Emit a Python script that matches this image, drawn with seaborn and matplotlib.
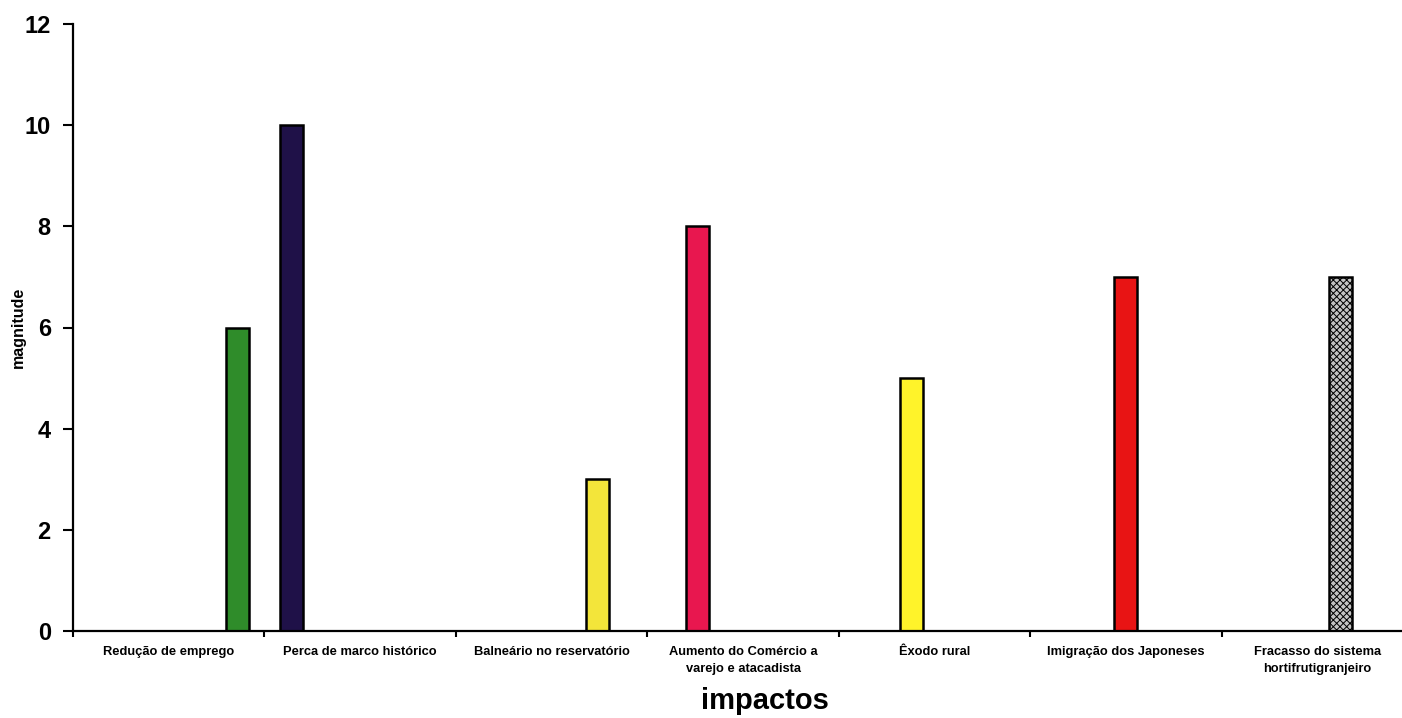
import matplotlib
matplotlib.use("Agg")
import matplotlib.pyplot as plt
import seaborn as sns
import pandas as pd

# Impacts and their magnitudes
impactos = [
    "Redução de emprego",
    "Perca de marco histórico",
    "Balneário no reservatório",
    "Aumento do Comércio a\nvarejo e atacadista",
    "Êxodo rural",
    "Imigração dos Japoneses",
    "Fracasso do sistema\nhortifrutigranjeiro",
]
magnitudes = [6, 10, 3, 8, 5, 7, 7]

# Series order inside each category group (one series per impact)
ordem_series = [
    "Perca de marco histórico",
    "Aumento do Comércio a\nvarejo e atacadista",
    "Êxodo rural",
    "Imigração dos Japoneses",
    "Fracasso do sistema\nhortifrutigranjeiro",
    "Balneário no reservatório",
    "Redução de emprego",
]
cores = [
    "#2f8c2a",  # Redução de emprego
    "#1f1148",  # Perca de marco histórico
    "#f3e53a",  # Balneário no reservatório
    "#e8174f",  # Aumento do Comércio
    "#fff32a",  # Êxodo rural
    "#e81414",  # Imigração dos Japoneses
    "#c4c4c4",  # Fracasso do sistema
]

df = pd.DataFrame({"impacto": impactos, "magnitude": magnitudes})
paleta = dict(zip(impactos, cores))

sns.set_theme(style="white")
plt.rcParams["font.family"] = ["Liberation Sans", "DejaVu Sans"]
plt.rcParams["hatch.linewidth"] = 0.7
plt.rcParams["text.color"] = "black"
plt.rcParams["axes.labelcolor"] = "black"
plt.rcParams["xtick.color"] = "black"
plt.rcParams["ytick.color"] = "black"

fig = plt.figure(figsize=(14.02, 7.18), dpi=100)
ax = fig.add_axes([73 / 1402, 87 / 718, 1340 / 1402, 607 / 718])

sns.barplot(
    data=df, x="impacto", y="magnitude", hue="impacto",
    order=impactos, hue_order=ordem_series, palette=paleta,
    dodge=True, width=0.84, saturation=1, edgecolor="black",
    linewidth=1.8, legend=False, ax=ax,
)

# checkered fill for the last series
idx = ordem_series.index(impactos[-1])
for p in ax.containers[idx]:
    p.set_hatch("xxxxx")

ax.set_xlim(-0.5, len(impactos) - 0.5)
ax.set_ylim(0, 12)
ax.set_yticks(range(0, 13, 2))
ax.tick_params(axis="y", labelsize=17, length=7, width=1.5, pad=9,
               left=True, direction="out")
for t in ax.get_yticklabels():
    t.set_fontweight("bold")

# category boundaries carry the tick marks, labels sit at the centres
ax.set_xticks(range(len(impactos)))
ax.set_xticklabels(impactos, fontsize=9.3, fontweight="bold", linespacing=1.5)
ax.tick_params(axis="x", which="major", length=0, pad=11)
ax.set_xticks([i - 0.5 for i in range(len(impactos) + 1)], minor=True)
ax.tick_params(axis="x", which="minor", length=4, width=1.5,
               bottom=True, direction="out")

for side in ("top", "right"):
    ax.spines[side].set_visible(False)
for side in ("left", "bottom"):
    ax.spines[side].set_color("black")
    ax.spines[side].set_linewidth(1.6)

ax.set_xlabel("impactos", fontsize=21, fontweight="bold", va="center")
ax.xaxis.set_label_coords(0.516, -0.115)
ax.set_ylabel("magnitude", fontsize=11.5, fontweight="bold", va="center")
ax.yaxis.set_label_coords(-0.041, 0.5)

fig.savefig("out.png", dpi=100, facecolor="white")
